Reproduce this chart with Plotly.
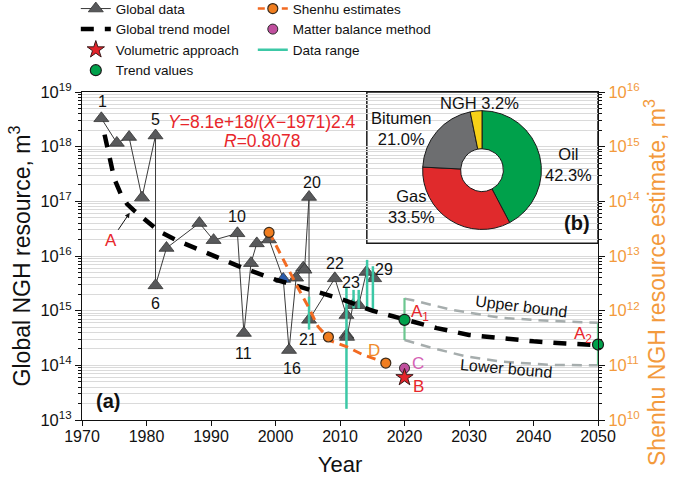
import numpy as np
import plotly.graph_objects as go

# ---------------- data ----------------
# Global NGH resource data (left axis, m3)
gd_id = list(range(1, 30))
gd_year = [1973.0, 1975.4, 1977.3, 1979.3, 1981.4, 1981.4, 1983.1, 1988.2, 1990.4, 1994.1,
           1995.1, 1996.2, 1997.1, 1999.0, 2001.2, 2002.1, 2003.2, 2004.3, 2004.5, 2005.2,
           2005.2, 2009.2, 2011.0, 2011.0, 2011.1, 2012.0, 2012.9, 2014.1, 2015.3]
gd_value = [3.3e18, 1.17e18, 1.5e18, 1.17e17, 1.6e18, 2.9e15, 1.4e16, 4.0e16, 1.95e16, 2.6e16,
            3.9e14, 7.4e15, 1.7e16, 2.0e16, 3.8e15, 1.9e14, 4.0e15, 6.1e15, 5.6e15, 1.2e17,
            6.8e14, 3.9e15, 8.3e14, 3.6e14, 3.3e14, 1.26e15, 1.26e15, 5.1e15, 3.9e15]
gd_highlight = 15  # blue triangle
labelled_ids = [1, 5, 6, 10, 11, 16, 20, 21, 22, 23, 29]

# Global trend model
trend_year = [1973.5, 1974, 1974.5, 1975, 1976, 1977, 1978, 1980, 1982, 1985, 1990, 1995, 2000,
              2005, 2010, 2015, 2020, 2025, 2030, 2035, 2040, 2045, 2050]
trend_value = [1.66e18, 9.5e17, 4.6e17, 2.6e17, 1.38e17, 8.9e16, 6.9e16, 4.3e16, 2.8e16, 1.86e16,
               1.05e16, 6.0e15, 3.7e15, 2.5e15, 1.66e15, 1.0e15, 6.8e14, 4.8e14, 3.6e14, 3.1e14,
               2.75e14, 2.5e14, 2.35e14]

# Upper / lower bounds
upper_year = [2020.0, 2021.3, 2027.1, 2034.9, 2042.6, 2050.0]
upper_value = [1.66e15, 1.55e15, 1.05e15, 7.4e14, 6.5e14, 6.0e14]
lower_year = [2020.0, 2024.5, 2029.6, 2034.9, 2042.6, 2050.0]
lower_value = [2.9e14, 2.05e14, 1.45e14, 1.17e14, 1.02e14, 1.0e14]

# Trend values A1, A2
tv_year = [2020.0, 2050.0]
tv_value = [6.8e14, 2.4e14]
tv_high = [1.7e15, 5.9e14]
tv_low = [2.9e14, 1.0e14]

# Data ranges
dr_year = [2005.2, 2011.0, 2012.1, 2012.9, 2014.2, 2015.1]
dr_low = [4.5e14, 1.6e13, 1.1e15, 1.1e15, 1.1e15, 1.02e15]
dr_high = [1.8e15, 2.6e15, 2.4e15, 2.4e15, 8.5e15, 6.5e15]

# Shenhu estimates (right axis, m3)
sh_year = [1999.0, 2008.2, 2017.1]
sh_value = [2.7e13, 3.3e11, 1.1e11]
sh_curve_year = [1999.0, 2000.7, 2002.0, 2003.5, 2005.1, 2006.6, 2008.6, 2011.0, 2013.6, 2016.2, 2017.1]
sh_curve_value = [2.75e13, 1.12e13, 5.5e12, 2.6e12, 1.17e12, 5.1e11, 2.8e11, 2.2e11, 1.55e11, 1.2e11, 1.12e11]

vol_year = [2020.0]
vol_value = [6.0e10]
mb_year = [2020.0]
mb_value = [8.9e10]

# Pie (b)
pie_labels = ["Oil", "Gas", "Bitumen", "NGH"]
pie_share = [42.3, 33.5, 21.0, 3.2]

x_ticks = list(range(1970, 2051, 10))
left_exp = list(range(13, 20))
right_exp = list(range(10, 17))

# ---------------- styling ----------------
FONT = "Arial, 'Liberation Sans', sans-serif"
RED = "#e8262b"
ORANGE_AX = "#f39a3c"
ORANGE = "#f26a21"
TEAL = "#3cc8a6"
GREEN = "#00a14b"
GREY_B = "#a6adad"

fig = go.Figure()

# bounds
fig.add_trace(go.Scatter(x=upper_year, y=upper_value, mode="lines",
                         line=dict(color=GREY_B, width=2.5, dash="10px,7px"),
                         showlegend=False, hoverinfo="skip"))
fig.add_trace(go.Scatter(x=lower_year, y=lower_value, mode="lines",
                         line=dict(color=GREY_B, width=2.5, dash="10px,7px"),
                         showlegend=False, hoverinfo="skip"))

# global data
gd_colors = ["#2b5cab" if i == gd_highlight else "#58595b" for i in gd_id]
fig.add_trace(go.Scatter(x=gd_year, y=gd_value, mode="lines+markers", name="Global data",
                         line=dict(color="#3a3a3a", width=1),
                         marker=dict(symbol="triangle-up", size=13, color=gd_colors,
                                     line=dict(color="#333333", width=0.8)),
                         legend="legend", legendrank=1))

# data range
dr_x, dr_y = [], []
for xv, lo, hi in zip(dr_year, dr_low, dr_high):
    dr_x += [xv, xv, None]
    dr_y += [lo, hi, None]
fig.add_trace(go.Scatter(x=dr_x, y=dr_y, mode="lines", name="Data range",
                         line=dict(color=TEAL, width=2.5), legend="legend2", legendrank=3))

# trend model
fig.add_trace(go.Scatter(x=trend_year, y=trend_value, mode="lines", name="Global trend model",
                         line=dict(color="black", width=4.5, dash="13px,11px"),
                         legend="legend", legendrank=2))

# Shenhu curve + points (right axis)
fig.add_trace(go.Scatter(x=sh_curve_year, y=sh_curve_value, yaxis="y2", mode="lines",
                         line=dict(color=ORANGE, width=3, dash="9px,6px"),
                         showlegend=False, hoverinfo="skip"))
fig.add_trace(go.Scatter(x=sh_year, y=sh_value, yaxis="y2", mode="markers",
                         marker=dict(symbol="circle", size=10, color="#f07d1f",
                                     line=dict(color="#3a2a1a", width=1.2)),
                         showlegend=False))
fig.add_trace(go.Scatter(x=[None], y=[None], yaxis="y2", mode="lines+markers", name="Shenhu estimates",
                         line=dict(color=ORANGE, width=2.5, dash="7px,5px"),
                         marker=dict(symbol="circle", size=10, color="#f07d1f",
                                     line=dict(color="#3a2a1a", width=1.2)),
                         legend="legend2", legendrank=1))

# trend values
fig.add_trace(go.Scatter(x=tv_year, y=tv_value, mode="markers", name="Trend values",
                         marker=dict(symbol="circle", size=11, color=GREEN,
                                     line=dict(color="#1a1a1a", width=1.2)),
                         error_y=dict(type="data", symmetric=False,
                                      array=[h - v for h, v in zip(tv_high, tv_value)],
                                      arrayminus=[v - l for l, v in zip(tv_low, tv_value)],
                                      color="#6cc790", thickness=2.2, width=0),
                         cliponaxis=False, legend="legend", legendrank=4))

# matter balance & volumetric (right axis)
fig.add_trace(go.Scatter(x=mb_year, y=mb_value, yaxis="y2", mode="markers", name="Matter balance method",
                         marker=dict(symbol="circle", size=10, color="#c04f9e",
                                     line=dict(color="#2a2a2a", width=1)),
                         legend="legend2", legendrank=2))
fig.add_trace(go.Scatter(x=vol_year, y=vol_value, yaxis="y2", mode="markers", name="Volumetric approach",
                         marker=dict(symbol="star", size=13, color="#e3242b",
                                     line=dict(color="#3a1a1a", width=1)),
                         legend="legend", legendrank=3))

# pie inset
fig.add_trace(go.Pie(labels=pie_labels, values=pie_share, sort=False, direction="clockwise",
                     rotation=0, hole=0.36, textinfo="none", hoverinfo="skip",
                     marker=dict(colors=[GREEN, "#e02a2c", "#6d6e70", "#f7d117"],
                                 line=dict(color="#1a1a1a", width=1)),
                     domain=dict(x=[0.6595, 0.891], y=[0.581, 0.943]), showlegend=False))

# ---------------- annotations ----------------
ann = []
label_offsets = {1: (1, 17), 5: (0, 16), 6: (0, -18), 10: (0, 17), 11: (0, -20), 16: (3, -18),
                 20: (3, 15), 21: (-1, -20), 22: (0, 15), 23: (5, 33), 29: (10, 9)}
for i in labelled_ids:
    dx, dy = label_offsets[i]
    ann.append(dict(x=gd_year[i - 1], y=np.log10(gd_value[i - 1]), xref="x", yref="y",
                    text=str(i), showarrow=False, xshift=dx, yshift=dy,
                    font=dict(size=16, color="#111")))

ann.append(dict(x=1997.9, y=18.46, xref="x", yref="y", showarrow=False,
                text="<i>Y</i>=8.1e+18/(<i>X</i>−1971)2.4", font=dict(size=17.5, color=RED)))
ann.append(dict(x=1997.9, y=18.11, xref="x", yref="y", showarrow=False,
                text="<i>R</i>=0.8078", font=dict(size=17.5, color=RED)))
ann.append(dict(x=1977.4, y=16.79, xref="x", yref="y", text="A", showarrow=True,
                ax=-19, ay=28, arrowhead=2, arrowsize=1, arrowwidth=1, arrowcolor="#111",
                font=dict(size=17, color=RED)))
ann.append(dict(x=2022.4, y=14.95, xref="x", yref="y", text="A<sub>1</sub>", showarrow=False,
                font=dict(size=17, color=RED)))
ann.append(dict(x=2047.6, y=14.56, xref="x", yref="y", text="A<sub>2</sub>", showarrow=False,
                font=dict(size=17, color=RED)))
ann.append(dict(x=2022.1, y=13.61, xref="x", yref="y", text="B", showarrow=False,
                font=dict(size=17, color=RED)))
ann.append(dict(x=2022.1, y=14.04, xref="x", yref="y", text="C", showarrow=False,
                font=dict(size=17, color="#d45fb4")))
ann.append(dict(x=2015.3, y=14.28, xref="x", yref="y", text="D", showarrow=False,
                font=dict(size=17, color="#f08a2a")))
ann.append(dict(x=2038.2, y=15.07, xref="x", yref="y", text="Upper bound", showarrow=False,
                textangle=7, font=dict(size=16, color="#111")))
ann.append(dict(x=2035.8, y=13.95, xref="x", yref="y", text="Lower bound", showarrow=False,
                textangle=5, font=dict(size=16, color="#111")))
ann.append(dict(x=1974.1, y=13.34, xref="x", yref="y", text="<b>(a)</b>", showarrow=False,
                font=dict(size=20, color="#111")))
ann.append(dict(x=2046.7, y=16.60, xref="x", yref="y", text="<b>(b)</b>", showarrow=False,
                font=dict(size=20, color="#111")))
# pie labels
for txt, xv, yv in [("NGH 3.2%", 2031.7, 18.80), ("Bitumen<br>21.0%", 2019.6, 18.34),
                    ("Oil<br>42.3%", 2045.4, 17.68), ("Gas<br>33.5%", 2021.1, 16.90)]:
    ann.append(dict(x=xv, y=yv, xref="x", yref="y", text=txt, showarrow=False,
                    font=dict(size=16.5, color="#111")))

# right axis title (sits lower than the plot centre in the reference)
ann.append(dict(xref="paper", yref="paper", x=1.0, y=(420 - 283) / 328, xshift=74,
                text="Shenhu NGH resource estimate, m<sup>3</sup>", textangle=-90,
                showarrow=False, font=dict(size=23, color=ORANGE_AX)))

shapes = [dict(type="rect", xref="paper", yref="paper", x0=0.552, x1=1.0, y0=0.539, y1=1.0,
               fillcolor="white", line=dict(color="#1a1a1a", width=1.5), layer="between")]

GRID = "#dadada"
fig.update_layout(
    width=685, height=491,
    margin=dict(l=82, r=87, t=92, b=71, autoexpand=False),
    paper_bgcolor="white", plot_bgcolor="white",
    font=dict(family=FONT, color="#111"),
    annotations=ann, shapes=shapes,
    xaxis=dict(range=[1970, 2050], tickvals=x_ticks, ticks="outside", ticklen=5,
               tickcolor="#111", showline=True, linecolor="#111", linewidth=1.2, mirror=True,
               showgrid=False, zeroline=False, tickfont=dict(size=16), automargin=False,
               ticklabelstandoff=-3,
               title=dict(text="Year", font=dict(size=22), standoff=12)),
    yaxis=dict(type="log", range=[13, 19], tickvals=[10.0 ** e for e in left_exp],
               ticktext=[f"10<sup>{e}</sup>" for e in left_exp],
               ticks="outside", ticklen=6, tickcolor="#111", showline=True, linecolor="#111",
               linewidth=1.2, showgrid=True, gridcolor=GRID, gridwidth=1, zeroline=False,
               tickfont=dict(size=16.5), automargin=False,
               minor=dict(dtick="D1", ticks="outside", ticklen=3, tickcolor="#111",
                          showgrid=True, gridcolor=GRID, gridwidth=1),
               title=dict(text="Global NGH resource, m<sup>3</sup>", font=dict(size=23), standoff=3)),
    yaxis2=dict(type="log", range=[10, 16], overlaying="y", side="right",
                tickvals=[10.0 ** e for e in right_exp],
                ticktext=[f"10<sup>{e}</sup>" for e in right_exp],
                ticks="outside", ticklen=6, tickcolor="#111", showline=True, linecolor="#111",
                linewidth=1.2, showgrid=False, zeroline=False, automargin=False,
                tickfont=dict(size=16.5, color=ORANGE_AX),
                minor=dict(dtick="D1", ticks="outside", ticklen=3, tickcolor="#111", showgrid=False)),
    legend=dict(x=-0.012, y=1.301, xanchor="left", yanchor="top", bgcolor="rgba(0,0,0,0)",
                font=dict(size=13.5, color="#111"), tracegroupgap=0, traceorder="normal"),
    legend2=dict(x=0.331, y=1.301, xanchor="left", yanchor="top", bgcolor="rgba(0,0,0,0)",
                 font=dict(size=13.5, color="#111"), tracegroupgap=0, traceorder="normal"),
)

fig.write_html("out.html", config={"displayModeBar": False},
               post_script="document.body.style.margin='0px';")
